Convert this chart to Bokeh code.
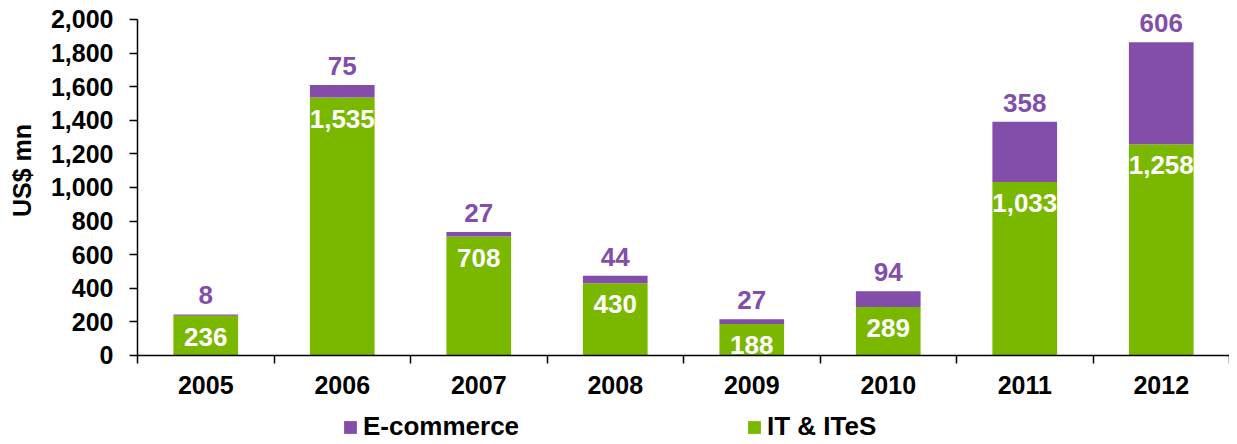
import math
from bokeh.plotting import figure
from bokeh.models import (ColumnDataSource, FixedTicker, NumeralTickFormatter, Range1d,
                          LabelSet, Label, Legend, LegendItem)
from bokeh.core.properties import value
from bokeh.embed import file_html
from bokeh.resources import INLINE

years = ["2005", "2006", "2007", "2008", "2009", "2010", "2011", "2012"]
it_ites = [236, 1535, 708, 430, 188, 289, 1033, 1258]
ecommerce = [8, 75, 27, 44, 27, 94, 358, 606]
y_ticks = [0, 200, 400, 600, 800, 1000, 1200, 1400, 1600, 1800, 2000]

GREEN = "#7AB800"
PURPLE = "#834DAA"
FONT = "Liberation Sans"

xpos = list(range(len(years)))
total = [a + b for a, b in zip(it_ites, ecommerce)]
src = ColumnDataSource(dict(
    x=xpos, it=it_ites, ec=ecommerce, total=total,
    it_lbl=[f"{v:,}" for v in it_ites],
    ec_lbl=[f"{v:,}" for v in ecommerce],
))

x_left = xpos[0] - 0.5
x_right = xpos[-1] + 0.5

# the frame fills the whole canvas; both axes are pinned inside it (fixed_location)
# so that the legend, the axis title and the top labels are never clipped
p = figure(width=1229, height=442,
           x_range=Range1d(x_left - 137 / 136.5, x_right), y_range=Range1d(-518, 2113),
           output_backend="svg", toolbar_location=None,
           min_border_left=0, min_border_right=0, min_border_top=0, min_border_bottom=0)
p.outline_line_color = None
p.grid.visible = False

rs = p.vbar_stack(["it", "ec"], x="x", width=0.474, color=[GREEN, PURPLE],
                  line_color=None, source=src)

# x axis: labels at centers, tick marks at category boundaries
xa = p.xaxis[0]
xa.fixed_location = 0
xa.bounds = (x_left, x_right)
xa.ticker = FixedTicker(ticks=xpos, minor_ticks=[i - 0.5 for i in range(len(years) + 1)])
xa.major_label_overrides = {i: y for i, y in zip(xpos, years)}
xa.major_tick_out = 0
xa.major_tick_in = 0
xa.minor_tick_out = 8
xa.minor_tick_in = 0
xa.minor_tick_line_color = "black"
xa.minor_tick_line_width = 1.5
xa.axis_line_color = "black"
xa.axis_line_width = 1.5
xa.major_label_standoff = 13
xa.major_label_text_font = FONT
xa.major_label_text_font_style = "bold"
xa.major_label_text_font_size = "25px"
xa.major_label_text_color = "black"

ya = p.yaxis[0]
ya.fixed_location = x_left
ya.bounds = (y_ticks[0], y_ticks[-1])
ya.ticker = FixedTicker(ticks=y_ticks)
ya.formatter = NumeralTickFormatter(format="0,0")
ya.major_tick_out = 8
ya.major_tick_in = 0
ya.minor_tick_line_color = None
ya.major_tick_line_color = "black"
ya.major_tick_line_width = 1.5
ya.axis_line_color = "black"
ya.axis_line_width = 1.5
ya.major_label_standoff = 16
ya.major_label_text_font = FONT
ya.major_label_text_font_style = "bold"
ya.major_label_text_font_size = "25px"
ya.major_label_text_color = "black"

ytitle = Label(x=x_left, y=(y_ticks[0] + y_ticks[-1]) / 2, x_offset=-116, y_offset=17,
               text="US$ mn", angle=math.pi / 2, text_align="center", text_baseline="middle",
               text_font=FONT, text_font_style="bold", text_font_size="25px",
               text_color="black")
p.add_layout(ytitle)

lbl_it = LabelSet(x="x", y="it", text="it_lbl", source=src, y_offset=-21,
                  text_align="center", text_baseline="middle", text_color="white",
                  text_font=value(FONT), text_font_style="bold", text_font_size="26px")
lbl_ec = LabelSet(x="x", y="total", text="ec_lbl", source=src, y_offset=19,
                  text_align="center", text_baseline="middle", text_color=PURPLE,
                  text_font=value(FONT), text_font_style="bold", text_font_size="26px")
p.add_layout(lbl_it)
p.add_layout(lbl_ec)

legend = Legend(items=[LegendItem(label="E-commerce", renderers=[rs[1]]),
                       LegendItem(label="IT & ITeS", renderers=[rs[0]])],
                location=(342, 0), orientation="horizontal",
                glyph_width=16, glyph_height=16, label_standoff=5,
                label_width=383, spacing=0, padding=0, margin=0,
                border_line_color=None, background_fill_alpha=0,
                label_text_font=FONT, label_text_font_style="bold",
                label_text_font_size="26px", label_text_color="black")
p.add_layout(legend)

open("out.html", "w").write(file_html(p, INLINE))
